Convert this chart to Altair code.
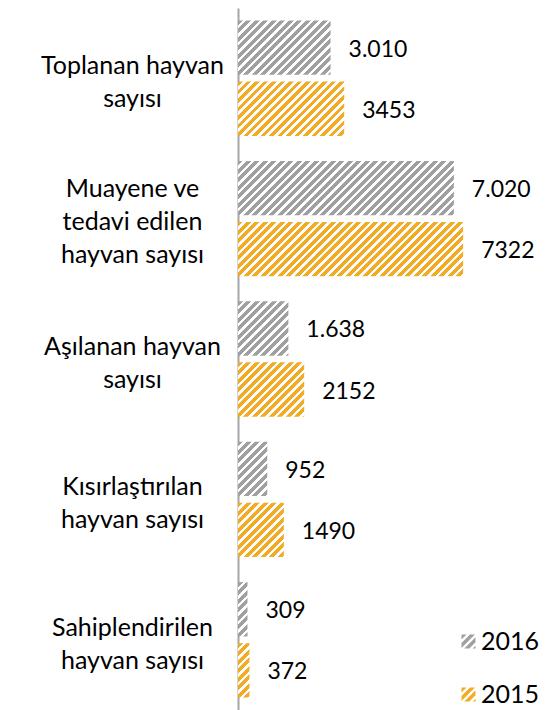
import altair as alt
import pandas as pd

categories = [
    "Toplanan hayvan\nsayısı",
    "Muayene ve\ntedavi edilen\nhayvan sayısı",
    "Aşılanan hayvan\nsayısı",
    "Kısırlaştırılan\nhayvan sayısı",
    "Sahiplendirilen\nhayvan sayısı",
]
years = ["2016", "2015"]
values_2016 = [3010, 7020, 1638, 952, 309]
values_2015 = [3453, 7322, 2152, 1490, 372]
labels_2016 = ["3.010", "7.020", "1.638", "952", "309"]
labels_2015 = ["3453", "7322", "2152", "1490", "372"]
colors = ["#a0a0a0", "#f2ab25"]

# layout constants
PLOT_W = 246
PLOT_H = 702
X_MAX = 8000
PAD_IN, PAD_OUT = 0.178, 0.089
OFF_PAD = 0.11

rows = []
i = 0
for c, v16, v15, l16, l15 in zip(categories, values_2016, values_2015, labels_2016, labels_2015):
    rows.append({"id": i, "category": c, "year": "2016", "value": v16, "label": l16}); i += 1
    rows.append({"id": i, "category": c, "year": "2015", "value": v15, "label": l15}); i += 1
df = pd.DataFrame(rows)

# bar pixel height from band scale settings
step = PLOT_H / (len(categories) - PAD_IN + 2 * PAD_OUT)
band = step * (1 - PAD_IN)
sub = band / (2 - OFF_PAD)
BAR_H = sub * (1 - OFF_PAD)


def hatch(color, w, h, period=8.5, frac=0.58):
    w = max(w, 1.0)
    L = w + h
    d = w * w + h * h
    P = period / L
    stops = []
    k = 0
    while k * P < 1:
        a = k * P
        b = min((k + frac) * P, 1.0)
        c = min((k + 1) * P, 1.0)
        stops += [{"offset": round(a, 5), "color": color}, {"offset": round(b, 5), "color": color}]
        if b < 1:
            stops += [{"offset": round(b, 5), "color": "#ffffff"}, {"offset": round(c, 5), "color": "#ffffff"}]
        k += 1
    return {"gradient": "linear", "x1": 0, "y1": 0,
            "x2": round(w * L / d, 5), "y2": round(h * L / d, 5), "stops": stops}


conds = []
for r in rows:
    w = r["value"] / X_MAX * PLOT_W
    col = colors[years.index(r["year"])]
    conds.append({"test": f"datum.id === {r['id']}", "value": hatch(col, w, BAR_H)})


def clip(poly, a, b, c):
    # keep points where a*x + b*y <= c
    out = []
    n = len(poly)
    for j in range(n):
        p, q = poly[j], poly[(j + 1) % n]
        fp = a * p[0] + b * p[1] - c
        fq = a * q[0] + b * q[1] - c
        if fp <= 0:
            out.append(p)
        if (fp < 0 < fq) or (fq < 0 < fp):
            t = fp / (fp - fq)
            out.append((p[0] + t * (q[0] - p[0]), p[1] + t * (q[1] - p[1])))
    return out


def hatch_path(period=1.2, frac=0.6):
    sq = [(-1, -1), (1, -1), (1, 1), (-1, 1)]
    parts = []
    cc = -2.0
    while cc < 2.0:
        poly = clip(sq, -1, -1, -cc)
        poly = clip(poly, 1, 1, cc + frac * period)
        if len(poly) >= 3:
            parts.append("M" + "L".join(f"{x:.3f},{y:.3f}" for x, y in poly) + "Z")
        cc += period
    return "".join(parts)


FONT = "Lato"

y_enc = alt.Y(
    "category:N",
    sort=categories,
    scale=alt.Scale(paddingInner=PAD_IN, paddingOuter=PAD_OUT),
    axis=alt.Axis(
        title=None, ticks=False, grid=False, domain=True,
        domainColor="#a6a6a6", domainWidth=2,
        labelExpr="split(datum.value, '\\n')",
        labelAlign="center", labelBaseline="middle",
        labelPadding=106, labelLimit=400,
        labelOffset={"condition": {"test": "length(split(datum.value, '\\n')) > 2", "value": -30},
                     "value": -12},
        labelFont=FONT, labelFontSize=25, labelColor="#000000",
        labelLineHeight=33,
    ),
)
yoff = alt.YOffset("year:N", sort=years, scale=alt.Scale(paddingInner=OFF_PAD, paddingOuter=0))
x_enc = alt.X("value:Q", scale=alt.Scale(domain=[0, X_MAX]), axis=None)

base = alt.Chart(df)

bars = base.mark_bar().encode(
    y=y_enc,
    yOffset=yoff,
    x=x_enc,
    fill=alt.Fill(
        "year:N",
        scale=alt.Scale(domain=years, range=colors),
        legend=alt.Legend(
            title=None, orient="none", legendX=218, legendY=621,
            direction="vertical", symbolType=hatch_path(), symbolSize=196,
            symbolStrokeWidth=0, labelFont=FONT, labelFontSize=25,
            labelColor="#000000", labelOffset=0, rowPadding=27,
        ),
        condition=conds,
    ),
)

texts = base.mark_text(
    align="left", baseline="middle", dx=18, dy=2, font=FONT, fontSize=23, color="#000000"
).encode(y=y_enc, yOffset=yoff, x=x_enc, text="label:N")

chart = (
    alt.layer(bars, texts)
    .properties(
        width=PLOT_W, height=PLOT_H,
        autosize=alt.AutoSizeParams(type="none"),
        padding={"left": 238, "top": 8, "right": 67, "bottom": 0},
        background="white",
    )
    .configure_view(stroke=None)
)

chart.save("out.html", embed_options={"renderer": "svg", "actions": False})
